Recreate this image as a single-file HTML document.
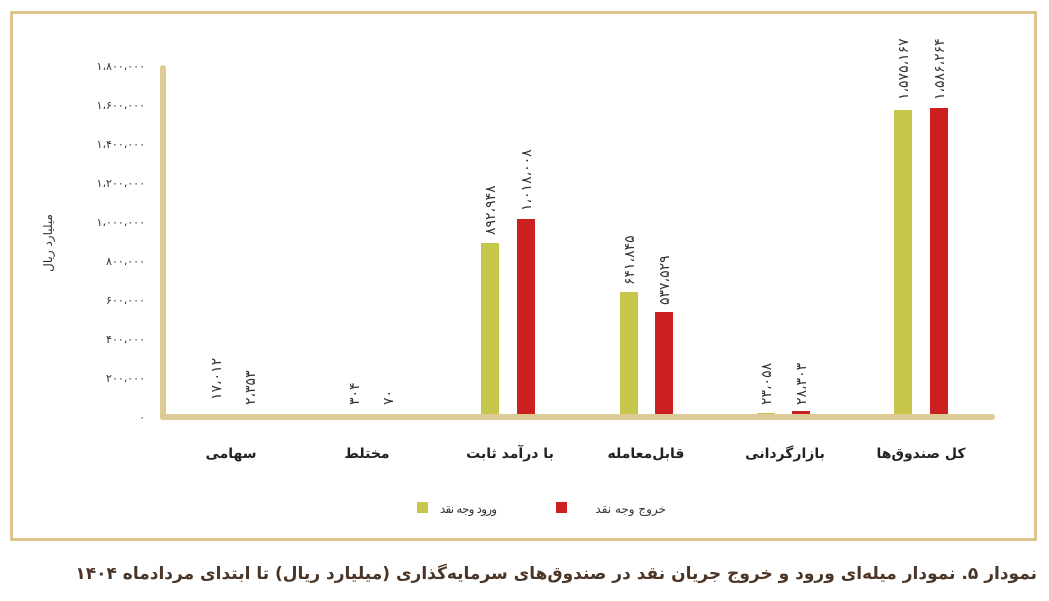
<!DOCTYPE html>
<html><head><meta charset="utf-8"><style>
html,body{margin:0;padding:0;background:#fff;}
body{width:1049px;height:601px;overflow:hidden;position:relative;font-family:"DejaVu Sans",sans-serif;}
</style></head><body>
<svg width="1049" height="601" xmlns="http://www.w3.org/2000/svg" style="position:absolute;left:0;top:0">
<rect x="11.5" y="12.5" width="1024" height="527" fill="none" stroke="#dcc48c" stroke-width="3"/>
<g font-family="DejaVu Sans, sans-serif" font-size="11" fill="#333" text-anchor="end">
<text x="145" y="421">۰</text>
<text x="145" y="382">۲۰۰،۰۰۰</text>
<text x="145" y="343">۴۰۰،۰۰۰</text>
<text x="145" y="304">۶۰۰،۰۰۰</text>
<text x="145" y="265">۸۰۰،۰۰۰</text>
<text x="145" y="226">۱،۰۰۰،۰۰۰</text>
<text x="145" y="187">۱،۲۰۰،۰۰۰</text>
<text x="145" y="148">۱،۴۰۰،۰۰۰</text>
<text x="145" y="109">۱،۶۰۰،۰۰۰</text>
<text x="145" y="70">۱،۸۰۰،۰۰۰</text>
</g>
<text transform="translate(52,243) rotate(-90)" font-size="12" fill="#333" text-anchor="middle" direction="rtl">میلیارد ریال</text>
<rect x="481" y="243" width="18" height="174" fill="#c5c64a"/>
<rect x="517" y="219" width="18" height="198" fill="#cc1f1f"/>
<rect x="620" y="292" width="18" height="125" fill="#c5c64a"/>
<rect x="655" y="312" width="18" height="105" fill="#cc1f1f"/>
<rect x="757" y="413" width="18" height="4" fill="#c5c64a"/>
<rect x="792" y="411" width="18" height="6" fill="#cc1f1f"/>
<rect x="894" y="110" width="18" height="307" fill="#c5c64a"/>
<rect x="930" y="108" width="18" height="309" fill="#cc1f1f"/>
<line x1="163" y1="68" x2="163" y2="417" stroke="#dccb94" stroke-width="6" stroke-linecap="round"/>
<line x1="163" y1="417" x2="992" y2="417" stroke="#dccb94" stroke-width="6" stroke-linecap="round"/>
<g font-family="DejaVu Sans, sans-serif" font-size="14" fill="#333">
<text transform="translate(221,400) rotate(-90)">۱۷،۰۱۲</text>
<text transform="translate(255,405) rotate(-90)">۲،۳۵۳</text>
<text transform="translate(359,405) rotate(-90)">۳۰۴</text>
<text transform="translate(393,405) rotate(-90)">۷۰</text>
<text transform="translate(495,235) rotate(-90)">۸۹۲،۹۴۸</text>
<text transform="translate(531,211) rotate(-90)">۱،۰۱۸،۰۰۸</text>
<text transform="translate(634,285) rotate(-90)">۶۴۱،۸۴۵</text>
<text transform="translate(669,305) rotate(-90)">۵۳۷،۵۲۹</text>
<text transform="translate(771,405) rotate(-90)">۲۳،۰۵۸</text>
<text transform="translate(806,405) rotate(-90)">۲۸،۳۰۳</text>
<text transform="translate(908,100) rotate(-90)">۱،۵۷۵،۱۶۷</text>
<text transform="translate(944,100) rotate(-90)">۱،۵۸۶،۲۶۴</text>
</g>
<g font-family="DejaVu Sans, sans-serif" font-size="14" fill="#222" text-anchor="middle" font-weight="bold" direction="rtl">
<text x="231" y="458">سهامی</text>
<text x="367" y="458">مختلط</text>
<text x="510" y="458">با درآمد ثابت</text>
<text x="646" y="458">قابل‌معامله</text>
<text x="785" y="458">بازارگردانی</text>
<text x="921" y="458">کل صندوق‌ها</text>
</g>
<rect x="417" y="502" width="11" height="11" fill="#c5c64a"/>
<text x="497" y="513" font-size="12" fill="#333" text-anchor="start" direction="rtl" textLength="57">ورود وجه نقد</text>
<rect x="556" y="502" width="11" height="11" fill="#cc1f1f"/>
<text x="666" y="513" font-size="12" fill="#333" text-anchor="start" direction="rtl">خروج وجه نقد</text>
<text x="1037" y="579" font-size="17" font-weight="bold" fill="#4a3526" text-anchor="start" direction="rtl">نمودار ۵. نمودار میله‌ای ورود و خروج جریان نقد در صندوق‌های سرمایه‌گذاری (میلیارد ریال) تا ابتدای مردادماه ۱۴۰۴</text>
</svg>
</body></html>
